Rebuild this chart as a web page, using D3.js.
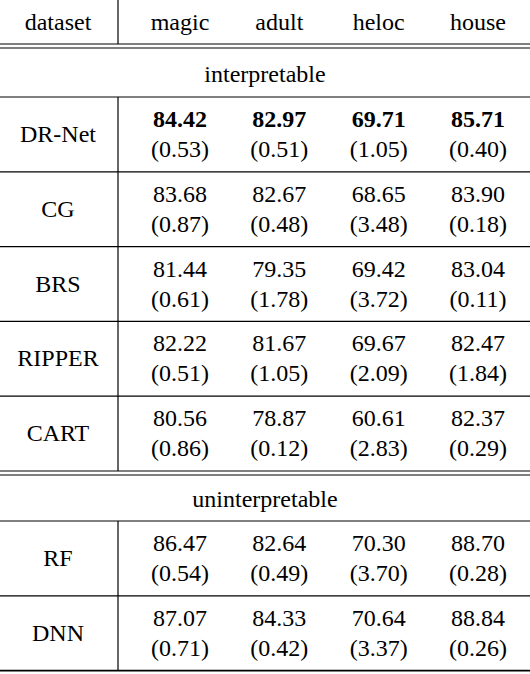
<!DOCTYPE html>
<html><head><meta charset="utf-8">
<script src="https://cdn.jsdelivr.net/npm/d3@7"></script>
<style>body{margin:0;background:#fff}</style>
</head><body>
<svg id="c" width="530" height="674"></svg>
<script>
const datasets = ["magic","adult","heloc","house"];
const interpretable = ["DR-Net","CG","BRS","RIPPER","CART"];
const uninterpretable = ["RF","DNN"];
const means = {
  "DR-Net":[84.42,82.97,69.71,85.71],
  "CG":[83.68,82.67,68.65,83.90],
  "BRS":[81.44,79.35,69.42,83.04],
  "RIPPER":[82.22,81.67,69.67,82.47],
  "CART":[80.56,78.87,60.61,82.37],
  "RF":[86.47,82.64,70.30,88.70],
  "DNN":[87.07,84.33,70.64,88.84]
};
const stds = {
  "DR-Net":[0.53,0.51,1.05,0.40],
  "CG":[0.87,0.48,3.48,0.18],
  "BRS":[0.61,1.78,3.72,0.11],
  "RIPPER":[0.51,1.05,2.09,1.84],
  "CART":[0.86,0.12,2.83,0.29],
  "RF":[0.54,0.49,3.70,0.28],
  "DNN":[0.71,0.42,3.37,0.26]
};
const boldRow = "DR-Net";

const svg = d3.select("#c");
const font = "'Liberation Serif', serif";
const x = d3.scalePoint().domain(datasets).range([180,478]);
const nameX = 58, divX = 118, rowH = 74.8;
const T = (xx,yy,s,bold)=>svg.append("text").attr("x",xx).attr("y",yy).attr("text-anchor","middle")
  .attr("dominant-baseline","central").attr("font-family",font).attr("font-size",24)
  .attr("font-weight",bold?"bold":"normal").attr("fill","#000").text(s);
const H = (yy,w)=>svg.append("line").attr("x1",0).attr("x2",530).attr("y1",yy).attr("y2",yy).attr("stroke","#000").attr("stroke-width",w||1.2);
const V = (y1,y2)=>svg.append("line").attr("x1",divX).attr("x2",divX).attr("y1",y1).attr("y2",y2).attr("stroke","#000").attr("stroke-width",1.2);

T(nameX,22,"dataset");
datasets.forEach(d=>T(x(d),22,d));
V(0,44);
H(44);H(48);
T(265,74,"interpretable");
H(97);
let y0 = 97;
function rows(list){
  list.forEach((r,i)=>{
    const b = r===boldRow;
    T(nameX,y0+37,r);
    datasets.forEach((d,j)=>{
      T(x(d),y0+22,means[r][j].toFixed(2),b);
      T(x(d),y0+52,"("+stds[r][j].toFixed(2)+")");
    });
    V(y0,y0+rowH);
    y0 += rowH;
    if(i<list.length-1) H(y0);
  });
}
rows(interpretable);
H(y0);H(y0+4);
T(265,y0+28,"uninterpretable");
y0 += 50; H(y0);
rows(uninterpretable);
H(y0,1.6);
</script>
</body></html>
